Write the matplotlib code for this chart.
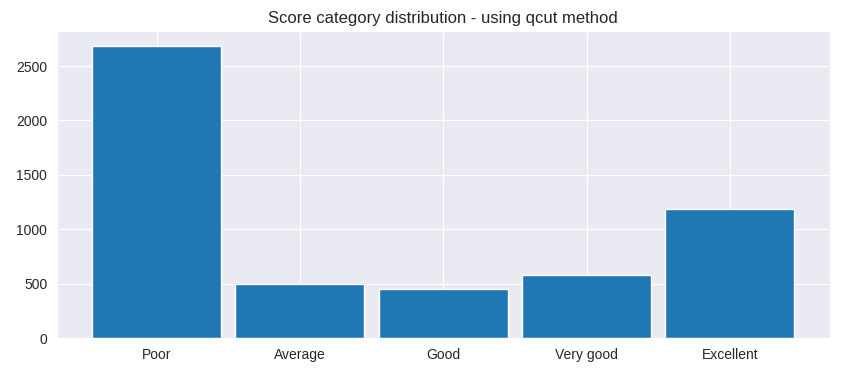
import matplotlib
matplotlib.use("Agg")
import matplotlib.pyplot as plt
import seaborn as sns

sns.set_style("darkgrid")
plt.rcParams['font.family'] = ['Liberation Sans', 'DejaVu Sans']

# score categories and their counts
categories = ["Poor", "Average", "Good", "Very good", "Excellent"]
counts = [2688, 495, 450, 578, 1185]

fig, ax = plt.subplots(figsize=(8.5, 3.69), dpi=100)
fig.subplots_adjust(left=0.067, right=0.976, top=0.916, bottom=0.084)

ax.bar(categories, counts, width=0.9, color="#1f77b4", edgecolor="white", linewidth=1)
ax.set_title("Score category distribution - using qcut method", fontsize=12)

fig.savefig("out.png")
